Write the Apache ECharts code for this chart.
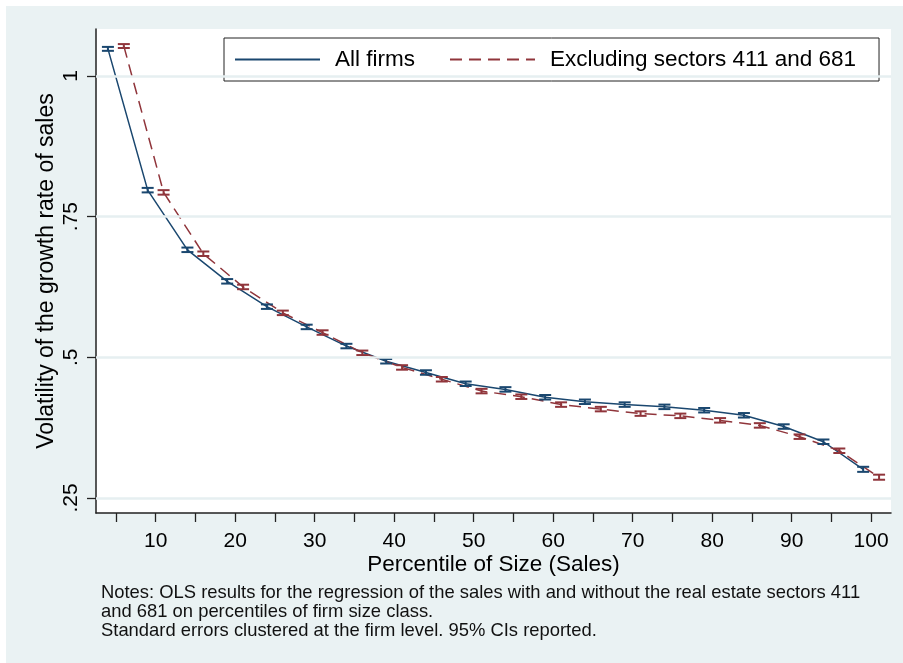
<!DOCTYPE html>
<html>
<head>
<meta charset="utf-8">
<script src="https://cdn.jsdelivr.net/npm/echarts@6/dist/echarts.min.js"></script>
<style>
  html, body { margin: 0; padding: 0; background: #ffffff; }
  #frame { position: absolute; left: 6px; top: 6px; width: 897px; height: 657px; background: #eaf2f3; }
  #chart { position: absolute; left: 0; top: 0; width: 903px; height: 663px; }
</style>
</head>
<body>
<div id="frame"></div>
<div id="chart"></div>
<script>
// Percentile positions of the point estimates (each series is offset by one percentile)
const xAllFirms  = [4, 9, 14, 19, 24, 29, 34, 39, 44, 49, 54, 59, 64, 69, 74, 79, 84, 89, 94, 99];
const xExcluding = [6, 11, 16, 21, 26, 31, 36, 41, 46, 51, 56, 61, 66, 71, 76, 81, 86, 91, 96, 101];

// Volatility of the growth rate of sales
const allFirms  = [1.048, 0.797, 0.691, 0.635, 0.590, 0.554, 0.520, 0.493, 0.473, 0.453,
                   0.443, 0.429, 0.421, 0.416, 0.412, 0.406, 0.397, 0.377, 0.350, 0.301];
const excluding = [1.053, 0.793, 0.684, 0.625, 0.579, 0.544, 0.508, 0.482, 0.461, 0.440,
                   0.430, 0.416, 0.408, 0.400, 0.396, 0.388, 0.379, 0.359, 0.334, 0.287];

// Half-widths of the 95% confidence intervals
const ciAllFirms  = [0.0035, 0.004, 0.004, 0.004, 0.004, 0.004, 0.004, 0.004, 0.004, 0.004,
                     0.004, 0.004, 0.004, 0.004, 0.004, 0.004, 0.004, 0.004, 0.004, 0.0045];
const ciExcluding = [0.0035, 0.004, 0.004, 0.004, 0.004, 0.004, 0.004, 0.004, 0.004, 0.004,
                     0.004, 0.004, 0.004, 0.004, 0.004, 0.004, 0.004, 0.004, 0.004, 0.0045];

// Axis ticks and labels
const xTicks  = [5, 10, 15, 20, 25, 30, 35, 40, 45, 50, 55, 60, 65, 70, 75, 80, 85, 90, 95, 100];
const xLabels = [10, 20, 30, 40, 50, 60, 70, 80, 90, 100];
const yTicks  = [0.25, 0.5, 0.75, 1];

const seriesNames = ['All firms', 'Excluding sectors 411 and 681'];
const notes = [
  'Notes: OLS results for the regression of the sales with and without the real estate sectors 411',
  'and 681 on percentiles of firm size class.',
  'Standard errors clustered at the firm level. 95% CIs reported.'
];

const BLUE = '#1a476f';
const RED = '#90353b';
const FONT = '"Liberation Sans", Arial, sans-serif';

function pairs(xs, ys) { return xs.map((x, i) => [x, ys[i]]); }
function ciRows(xs, ys, hw) { return xs.map((x, i) => [x, ys[i] - hw[i], ys[i] + hw[i]]); }

function errorBars(color) {
  return function (params, api) {
    const x = api.value(0);
    const lo = api.coord([x, api.value(1)]);
    const hi = api.coord([x, api.value(2)]);
    const half = 6;
    const style = { stroke: color, lineWidth: 2, fill: null };
    return {
      type: 'group',
      children: [
        { type: 'line', shape: { x1: lo[0], y1: lo[1], x2: hi[0], y2: hi[1] }, style },
        { type: 'line', shape: { x1: lo[0] - half, y1: lo[1], x2: lo[0] + half, y2: lo[1] }, style },
        { type: 'line', shape: { x1: hi[0] - half, y1: hi[1], x2: hi[0] + half, y2: hi[1] }, style }
      ]
    };
  };
}

const chart = echarts.init(document.getElementById('chart'), null, { renderer: 'canvas' });

chart.setOption({
  backgroundColor: 'transparent',
  animation: false,
  textStyle: { fontFamily: FONT },
  grid: {
    left: 96, top: 29, right: 12, bottom: 150,
    show: true, backgroundColor: '#ffffff', borderWidth: 0
  },
  legend: {
    data: seriesNames,
    left: 224, top: 38,
    itemWidth: 85, itemHeight: 14, itemGap: 34,
    padding: [10, 23, 10, 10],
    borderColor: '#222', borderWidth: 1, backgroundColor: '#ffffff',
    itemStyle: { color: 'transparent', borderColor: 'transparent', borderWidth: 0 },
    textStyle: { fontFamily: FONT, fontSize: 22.5, color: '#000', padding: [0, 0, 0, 10] }
  },
  xAxis: {
    type: 'value', min: 2.5, max: 102.5,
    name: 'Percentile of Size (Sales)', nameLocation: 'middle', nameGap: 40, nameMoveOverlap: false,
    nameTextStyle: { fontFamily: FONT, fontSize: 22.5, color: '#000' },
    axisLine: { show: true, onZero: false, lineStyle: { color: '#222', width: 1.5 } },
    axisTick: { show: true, length: 9, customValues: xTicks, lineStyle: { color: '#222', width: 1.3 } },
    axisLabel: { customValues: xLabels, fontFamily: FONT, fontSize: 21, color: '#000', margin: 18 },
    splitLine: { show: false }
  },
  yAxis: {
    type: 'value', min: 0.2234, max: 1.0833,
    name: 'Volatility of the growth rate of sales', nameLocation: 'middle', nameGap: 38, nameMoveOverlap: false,
    nameTextStyle: { fontFamily: FONT, fontSize: 23, color: '#000' },
    axisLine: { show: true, onZero: false, lineStyle: { color: '#222', width: 1.5 } },
    axisTick: { show: true, length: 9, customValues: yTicks, lineStyle: { color: '#222', width: 1.3 } },
    axisLabel: {
      customValues: yTicks, rotate: 90, fontFamily: FONT, fontSize: 21, color: '#000', margin: 14,
      formatter: v => (v >= 1 ? String(v) : String(v).replace(/^0/, ''))
    },
    splitLine: { show: false }
  },
  graphic: notes.map((t, i) => ({
    type: 'text', left: 101, top: 584 + i * 18.8, silent: true,
    style: { text: t, font: '18.4px ' + FONT, fill: '#111' }
  })),
  series: [
    {
      name: 'gridlines', type: 'line', data: [], silent: true, z: 1,
      markLine: {
        silent: true, symbol: 'none', label: { show: false },
        lineStyle: { color: '#e6eff1', width: 2.5, type: 'solid' },
        data: yTicks.map(v => ({ yAxis: v }))
      }
    },
    {
      name: seriesNames[0], type: 'line', data: pairs(xAllFirms, allFirms),
      symbol: 'none', z: 3, color: BLUE,
      lineStyle: { color: BLUE, width: 1.5, type: 'solid' }
    },
    {
      name: seriesNames[1], type: 'line', data: pairs(xExcluding, excluding),
      symbol: 'none', z: 3, color: RED,
      lineStyle: { color: RED, width: 1.5, type: [12, 7] }
    },
    {
      name: 'ci-all', type: 'custom', z: 4, data: ciRows(xAllFirms, allFirms, ciAllFirms),
      renderItem: errorBars(BLUE), encode: { x: 0, y: [1, 2] }
    },
    {
      name: 'ci-excl', type: 'custom', z: 4, data: ciRows(xExcluding, excluding, ciExcluding),
      renderItem: errorBars(RED), encode: { x: 0, y: [1, 2] }
    }
  ]
});
</script>
</body>
</html>
